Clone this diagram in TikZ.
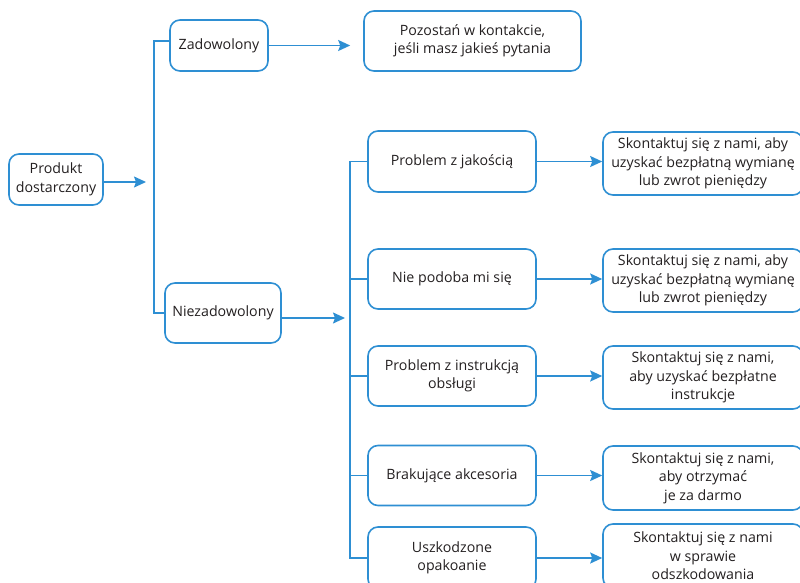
\documentclass[tikz,border=0pt]{standalone}
\usepackage{fontspec}
\setmainfont{Open Sans}
\usetikzlibrary{arrows.meta}
\definecolor{niebieski}{HTML}{2E8FD3}
\definecolor{tekst}{HTML}{231F20}
\tikzset{
  box/.style={draw=niebieski, line width=1.6pt, rounded corners=10pt, align=center,
    text=tekst, font=\fontsize{14.2}{18.5}\selectfont, inner sep=2pt},
  strzalka/.style={draw=niebieski, line width=1.6pt, -{Stealth[length=12pt,width=11pt,inset=2pt]}},
  klamra/.style={draw=niebieski, line width=1.6pt}
}

\begin{document}
\begin{tikzpicture}[x=1pt,y=-1pt]
    \useasboundingbox (0,0) rectangle (800,583);
    \clip (0,0) rectangle (800,583);

    % lewa kolumna
    \node[box, minimum width=94pt, minimum height=51pt] (prod) at (56,179.5) {Produkt\\dostarczony};
    \node[box, minimum width=98pt, minimum height=51pt] (zad) at (219,45.5) {Zadowolony};
    \node[box, minimum width=116pt, minimum height=60pt] (niez) at (223,313) {Niezadowolony};
    \node[box, minimum width=217pt, minimum height=60pt] (poz) at (472.5,41) {Pozostań w kontakcie,\\jeśli masz jakieś pytania};

    % problemy
    \node[box, minimum width=168pt, minimum height=61pt] (jak) at (452,161.5) {Problem z jakością};
    \node[box, minimum width=168pt, minimum height=60pt] (pod) at (452,279) {Nie podoba mi się};
    \node[box, minimum width=168pt, minimum height=60pt] (ins) at (452,376) {Problem z instrukcją\\obsługi};
    \node[box, minimum width=168pt, minimum height=60pt] (akc) at (452,475.5) {Brakujące akcesoria};
    \node[box, minimum width=168pt, minimum height=62pt] (opa) at (452,558) {Uszkodzone\\opakoanie};

    % odpowiedzi
    \node[box, minimum width=200pt, minimum height=63pt] (odp1) at (703,163.5) {Skontaktuj się z nami, aby\\uzyskać bezpłatną wymianę\\lub zwrot pieniędzy};
    \node[box, minimum width=200pt, minimum height=63pt] (odp2) at (703,280.5) {Skontaktuj się z nami, aby\\uzyskać bezpłatną wymianę\\lub zwrot pieniędzy};
    \node[box, minimum width=200pt, minimum height=63pt] (odp3) at (703,377.5) {Skontaktuj się z nami,\\aby uzyskać bezpłatne\\instrukcje};
    \node[box, minimum width=200pt, minimum height=64pt] (odp4) at (703,478) {Skontaktuj się z nami,\\aby otrzymać\\je za darmo};
    \node[box, minimum width=200pt, minimum height=64pt] (odp5) at (703,556) {Skontaktuj się z nami\\w sprawie\\odszkodowania};

    % klamry
    \coordinate (g1) at (154,41);
    \draw[klamra] (zad.west |- g1) -- (g1) |- (niez.west);
    \draw[klamra] (jak.west) -- ++(-17,0) |- (opa.west);
    \foreach \n in {pod,ins,akc}
        \draw[klamra] (\n.west) -- ++(-17,0);

    % strzalki
    \coordinate (k1) at (146,182);
    \coordinate (k2) at (345,318);
    \draw[strzalka] (prod.east |- k1) -- (k1);
    \draw[strzalka] (niez.east |- k2) -- (k2);
    \draw[strzalka, shorten >=13pt] (zad.east) -- (zad.east -| poz.west);
    \foreach \a/\b in {jak/odp1,pod/odp2,ins/odp3,akc/odp4,opa/odp5}
        \draw[strzalka] (\a.east) -- (\a.east -| \b.west);
\end{tikzpicture}
\end{document}
